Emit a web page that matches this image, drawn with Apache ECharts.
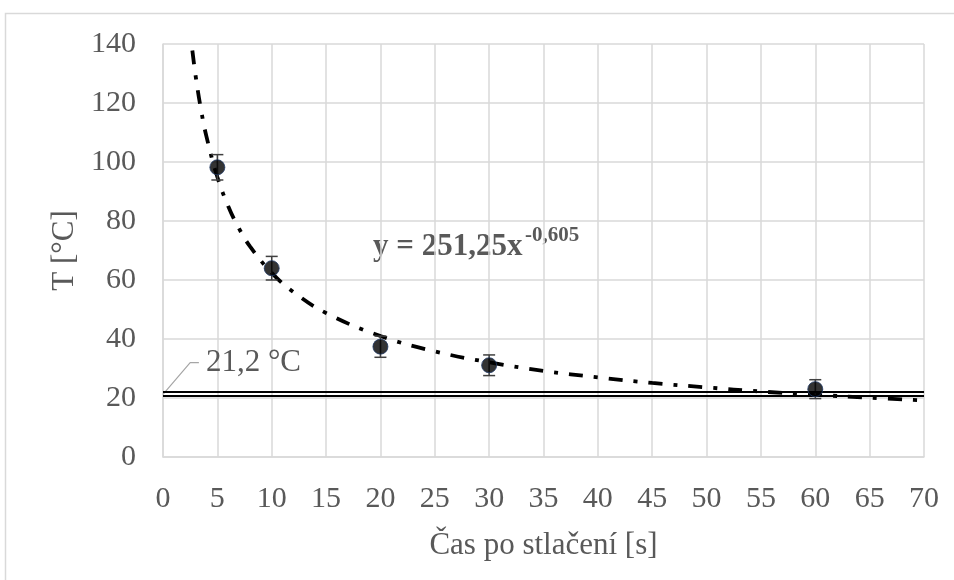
<!DOCTYPE html>
<html>
<head>
<meta charset="utf-8">
<script src="https://cdn.jsdelivr.net/npm/echarts@6/dist/echarts.min.js"></script>
<style>
  html, body { margin: 0; padding: 0; background: #fff; }
  #chart { width: 954px; height: 580px; }
</style>
</head>
<body>
<div id="chart"></div>
<script>
// measured points (time s, temperature °C) with error bars
const timeS = [5, 10, 20, 30, 60];
const tempC = [98.2, 64, 37.4, 31.1, 23];
const tempErr = [4.3, 4, 3.6, 3.5, 3.2];

// power trend y = 251,25x^-0,605
const trendX = [2.7, 3, 3.5, 4, 5, 6, 7, 8, 10, 12, 15, 20, 25, 30, 35, 40, 45, 50, 55, 60, 65, 70];
const trendY = [137.8, 129.2, 117.7, 108.6, 94.9, 85.0, 77.4, 71.4, 62.4, 55.9, 48.8, 41.0, 35.8, 32.1, 29.2, 27.0, 25.1, 23.6, 22.2, 21.1, 20.1, 19.2];

// ambient temperature band (double line) and its callout
const ambientLines = [22.1, 20.7];
const ambientLabel = "21,2 °C";
const calloutX = [0, 2.5, 3.3];
const calloutY = [21.2, 32.0, 32.0];

const xTicks = { min: 0, max: 70, step: 5 };
const yTicks = { min: 0, max: 140, step: 20 };

const font = "'Liberation Serif', 'Times New Roman', serif";
const grey = "#595959";

const chart = echarts.init(document.getElementById("chart"));

const option = {
  animation: false,
  textStyle: { fontFamily: font },
  graphic: [{
    type: "rect",
    shape: { x: 5.5, y: 13.5, width: 1000, height: 700 },
    style: { fill: "none", stroke: "#d9d9d9", lineWidth: 1.5 },
    silent: true
  }, {
    type: "text",
    left: 373,
    top: 231,
    style: { text: "y = 251,25x", font: "bold 31px " + font, fill: grey }
  }, {
    type: "text",
    left: 525,
    top: 225,
    style: { text: "-0,605", font: "bold 21px " + font, fill: grey }
  }],
  grid: { left: 163, top: 44, right: 30, bottom: 123 },
  xAxis: {
    type: "value",
    min: xTicks.min, max: xTicks.max, interval: xTicks.step,
    name: "Čas po stlačení [s]",
    nameLocation: "middle",
    nameGap: 73,
    nameTextStyle: { fontFamily: font, fontSize: 31, color: grey },
    axisLine: { show: true, lineStyle: { color: "#d9d9d9", width: 1.5 } },
    axisTick: { show: false },
    axisLabel: { fontFamily: font, fontSize: 30, color: grey, margin: 27 },
    splitLine: { show: true, lineStyle: { color: "#d9d9d9", width: 1.5 } }
  },
  yAxis: {
    type: "value",
    min: yTicks.min, max: yTicks.max, interval: yTicks.step,
    name: "T [°C]",
    nameLocation: "middle",
    nameGap: 72,
    nameTextStyle: { fontFamily: font, fontSize: 31, color: grey },
    axisLine: { show: true, lineStyle: { color: "#d9d9d9", width: 1.5 } },
    axisTick: { show: false },
    axisLabel: { fontFamily: font, fontSize: 30, color: grey, margin: 27 },
    splitLine: { show: true, lineStyle: { color: "#d9d9d9", width: 1.5 } }
  },
  series: [
    {
      name: "ambient",
      type: "line",
      data: [],
      silent: true,
      markLine: {
        symbol: "none",
        silent: true,
        label: { show: false },
        lineStyle: { color: "#000", width: 2, type: "solid" },
        data: ambientLines.map(v => ({ yAxis: v }))
      }
    },
    {
      name: "callout",
      type: "line",
      data: calloutX.map((x, i) => [x, calloutY[i]]),
      showSymbol: false,
      symbol: "none",
      silent: true,
      lineStyle: { color: "#a6a6a6", width: 1.2 },
      label: { show: false },
      endLabel: {
        show: true,
        formatter: ambientLabel,
        fontFamily: font,
        fontSize: 31,
        color: grey,
        distance: 7
      }
    },
    {
      name: "trend",
      type: "line",
      data: trendX.map((x, i) => [x, trendY[i]]),
      smooth: 0.4,
      showSymbol: false,
      symbol: "none",
      lineStyle: { color: "#000", width: 3.8, type: [14, 11, 4, 11] },
      z: 3
    },
    {
      name: "errors",
      type: "custom",
      data: timeS.map((x, i) => [x, tempC[i] - tempErr[i], tempC[i] + tempErr[i]]),
      renderItem: function (params, api) {
        const lo = api.coord([api.value(0), api.value(1)]);
        const hi = api.coord([api.value(0), api.value(2)]);
        const cap = 6;
        const style = { stroke: "#404040", lineWidth: 1.5, fill: "none" };
        return {
          type: "group",
          children: [
            { type: "line", shape: { x1: lo[0], y1: lo[1], x2: hi[0], y2: hi[1] }, style: style },
            { type: "line", shape: { x1: lo[0] - cap, y1: lo[1], x2: lo[0] + cap, y2: lo[1] }, style: style },
            { type: "line", shape: { x1: hi[0] - cap, y1: hi[1], x2: hi[0] + cap, y2: hi[1] }, style: style }
          ]
        };
      },
      z: 4
    },
    {
      name: "measured",
      type: "scatter",
      data: timeS.map((x, i) => [x, tempC[i]]),
      symbol: "circle",
      symbolSize: 15,
      itemStyle: { color: "#000", borderColor: "#1f3864", borderWidth: 1 },
      z: 5
    }
  ]
};

chart.setOption(option);
</script>
</body>
</html>
